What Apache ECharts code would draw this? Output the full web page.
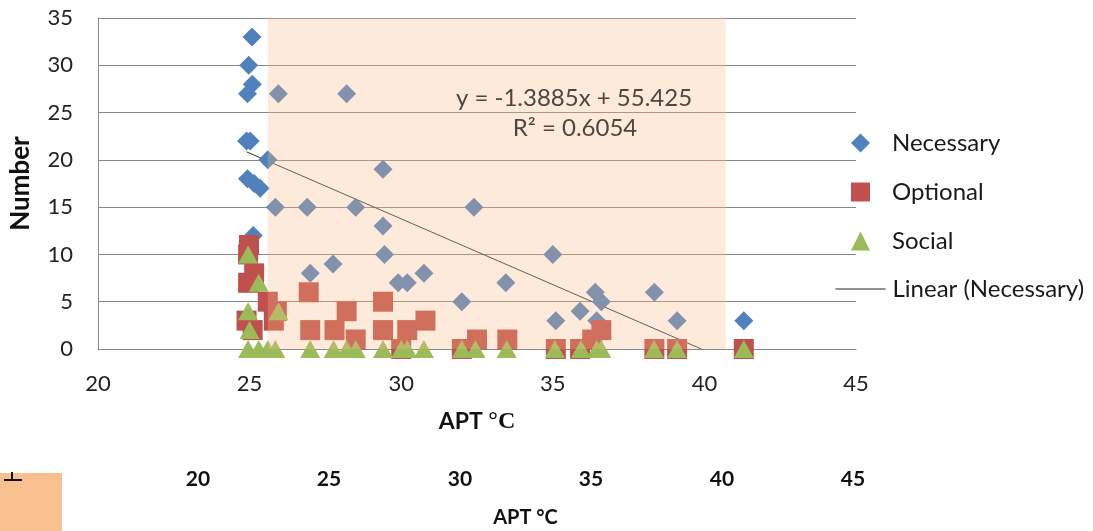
<!DOCTYPE html>
<html>
<head>
<meta charset="utf-8">
<script src="https://cdn.jsdelivr.net/npm/echarts@6/dist/echarts.min.js"></script>
<style>
    html, body { margin: 0; padding: 0; background: #fff; }
    #chart { width: 1093px; height: 531px; }
</style>
</head>
<body>
<div id="chart"></div>
<script>
    // values: [APT °C, number]
    const necessary = [
        [25.08, 33], [24.97, 30], [25.09, 28], [24.93, 27], [24.9, 22], [25.02, 22],
        [24.93, 18], [25.15, 17.5], [25.35, 17], [25.12, 12], [25.6, 20], [25.95, 27],
        [28.2, 27], [29.4, 19], [25.85, 15], [26.9, 15], [28.5, 15], [32.4, 15],
        [29.4, 13], [29.45, 10], [27, 8], [27.75, 9], [29.9, 7], [30.2, 7],
        [30.75, 8], [33.45, 7], [32, 5], [35, 10], [35.1, 3], [35.9, 4],
        [36.4, 6], [36.6, 5], [36.45, 3], [38.35, 6], [39.1, 3], [41.3, 3]
    ];
    const optional = [
        [24.98, 11], [24.95, 10], [25.15, 8], [24.95, 7], [24.9, 3], [25.1, 2],
        [25.6, 5], [25.9, 4], [25.8, 3], [26.95, 6], [27, 2], [27.8, 2],
        [28.2, 4], [28.5, 1], [29.4, 5], [29.4, 2], [30.2, 2], [30.8, 3],
        [30, 0], [32, 0], [32.5, 1], [33.5, 1], [35.1, 0], [35.9, 0],
        [36.6, 2], [36.3, 1], [38.35, 0], [39.1, 0], [41.3, 0]
    ];
    const social = [
        [24.95, 10], [25.3, 7], [24.95, 4], [25, 2], [25.95, 4],
        [24.95, 0], [25.3, 0], [25.6, 0], [25.85, 0], [27, 0], [27.77, 0],
        [28.2, 0], [28.5, 0], [29.4, 0], [30, 0], [30.2, 0], [30.75, 0],
        [32, 0], [32.45, 0], [33.48, 0], [35.07, 0], [35.93, 0], [36.45, 0],
        [36.6, 0], [38.34, 0], [39.1, 0], [41.3, 0]
    ];
    // linear trend of Necessary, end points as drawn
    const trendLine = [[24.9, 20.85], [39.9, 0]];
    const trendLabel = ["y = -1.3885x + 55.425", "R\u00b2 = 0.6054"];
    // shaded temperature band (x from, x to)
    const band = [[25.6, 40.7]];
    const xTicks = [20, 25, 30, 35, 40, 45];
    const yMax = 35;

    const font = "Lato";
    const gridColor = "#888888";

    let chart = echarts.init(document.getElementById("chart"));

    let option = {
        animation: false,
        textStyle: { fontFamily: font },
        grid: [
            { left: 98, right: 237, top: 18, bottom: 182 },
            { left: 198, right: 240, top: 448, height: 20 }
        ],
        xAxis: [
            {
                type: "value",
                min: xTicks[0],
                max: xTicks[xTicks.length - 1],
                interval: 5,
                splitLine: { show: false },
                axisTick: { show: false },
                axisLine: { lineStyle: { color: gridColor } },
                axisLabel: { color: "#222", fontSize: 22, margin: 24, fontFamily: font },
                name: "{a|APT }{b|\u00b0C}",
                nameLocation: "middle",
                nameGap: 61,
                nameTextStyle: {
                    rich: {
                        a: { fontSize: 23, fontWeight: "bold", color: "#111", fontFamily: font },
                        b: { fontSize: 24, fontWeight: "bold", color: "#111", fontFamily: "Liberation Serif" }
                    }
                }
            },
            {
                type: "value",
                gridIndex: 1,
                min: xTicks[0],
                max: xTicks[xTicks.length - 1],
                interval: 5,
                splitLine: { show: false },
                axisTick: { show: false },
                axisLine: { show: false },
                axisLabel: { color: "#111", fontSize: 21, fontWeight: "bold", margin: 1, fontFamily: font },
                name: "APT \u00b0C",
                nameLocation: "middle",
                nameGap: 40,
                nameTextStyle: { fontSize: 20, fontWeight: "bold", color: "#111", fontFamily: font }
            }
        ],
        yAxis: [
            {
                type: "value",
                min: 0,
                max: yMax,
                interval: 5,
                axisTick: { show: false },
                axisLine: { show: true, lineStyle: { color: gridColor } },
                splitLine: { lineStyle: { color: gridColor, width: 1 } },
                axisLabel: { color: "#222", fontSize: 22, margin: 25, fontFamily: font },
                name: "Number",
                nameLocation: "middle",
                nameGap: 64,
                nameTextStyle: { fontSize: 26, fontWeight: "bold", color: "#111", fontFamily: font }
            },
            { type: "value", gridIndex: 1, show: false }
        ],
        legend: [
            {
                orient: "vertical",
                left: 846,
                top: 126,
                itemWidth: 19,
                itemHeight: 19,
                itemGap: 25,
                data: ["Necessary", "Optional", "Social"],
                textStyle: { fontSize: 24, lineHeight: 19, color: "#1a1a1a", fontFamily: font, padding: [0, 0, 0, 17] }
            },
            {
                orient: "vertical",
                left: 830,
                top: 272,
                itemWidth: 50,
                itemHeight: 14,
                itemStyle: { opacity: 0 },
                lineStyle: { color: "#222", width: 1 },
                data: ["Linear (Necessary)"],
                textStyle: { fontSize: 24, color: "#1a1a1a", fontFamily: font, padding: [0, 0, 0, 2] }
            }
        ],
        series: [
            {
                name: "Linear (Necessary)",
                type: "line",
                data: trendLine,
                symbol: "none",
                itemStyle: { color: "#333" },
                lineStyle: { color: "#333", width: 1 },
                z: 1
            },
            {
                name: "Necessary",
                type: "scatter",
                data: necessary,
                symbol: "diamond",
                symbolSize: 19,
                itemStyle: { color: "#4f81bd", opacity: 1 },
                z: 2
            },
            {
                name: "Optional",
                type: "scatter",
                data: optional,
                symbol: "rect",
                symbolSize: 20,
                itemStyle: { color: "#c0504d", opacity: 1 },
                z: 3
            },
            {
                name: "Social",
                type: "scatter",
                data: social,
                symbol: "triangle",
                symbolSize: [20, 18],
                itemStyle: { color: "#9bbb59", opacity: 1 },
                z: 4
            },
            {
                // translucent band laid over the marks
                name: "band",
                type: "custom",
                data: band,
                silent: true,
                z: 10,
                encode: { x: [0, 1] },
                renderItem: function (params, api) {
                    let p0 = api.coord([api.value(0), yMax]);
                    let p1 = api.coord([api.value(1), 0]);
                    return {
                        type: "rect",
                        shape: { x: p0[0], y: p0[1], width: p1[0] - p0[0], height: p1[1] - p0[1] },
                        style: { fill: "rgba(248,185,132,0.3)" }
                    };
                }
            }
        ],
        graphic: [
            {
                type: "text",
                x: 574, y: 98, z: 20,
                style: {
                    text: trendLabel[0], fontSize: 24, fontFamily: font, fill: "#4e4640",
                    align: "center", verticalAlign: "middle"
                }
            },
            {
                type: "text",
                x: 575, y: 128, z: 20,
                style: {
                    text: trendLabel[1], fontSize: 24, fontFamily: font, fill: "#4e4640",
                    align: "center", verticalAlign: "middle"
                }
            },
            {
                type: "rect",
                shape: { x: 0, y: 473, width: 62, height: 58 },
                style: { fill: "#f9c08f" }
            },
            {
                type: "line",
                shape: { x1: 12, y1: 472, x2: 12, y2: 479 },
                style: { stroke: "#111", lineWidth: 2 }
            },
            {
                type: "line",
                shape: { x1: 4, y1: 480, x2: 22, y2: 480 },
                style: { stroke: "#111", lineWidth: 2 }
            }
        ]
    };

    chart.setOption(option);
</script>
</body>
</html>
